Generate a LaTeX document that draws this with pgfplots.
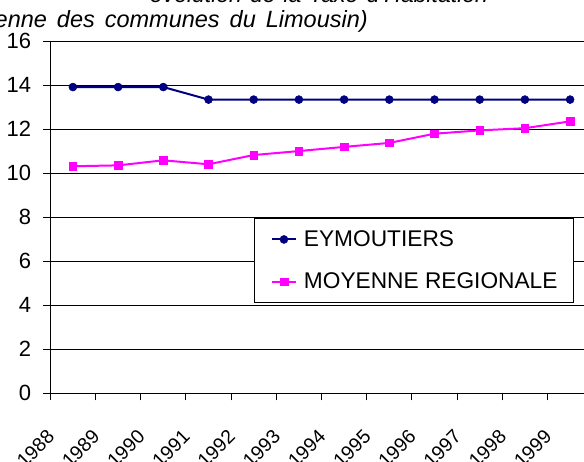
\documentclass[border=0pt]{standalone}
\usepackage{fontspec}
\setmainfont{Liberation Sans}
\usepackage{pgfplots}
\pgfplotsset{compat=1.18}
\definecolor{navyc}{HTML}{000080}
\definecolor{magc}{HTML}{FF00FF}
\begin{document}
\begin{tikzpicture}[x=1pt,y=1pt]
\useasboundingbox (0,0) rectangle (584,462);
\clip (0,0) rectangle (584,462);
\begin{axis}[
  at={(50.3pt,68.7pt)}, anchor=south west,
  scale only axis, width=542.4pt, height=352pt,
  xmin=0, xmax=12, ymin=0, ymax=16,
  axis x line*=bottom, axis y line*=left,
  axis line style={-, black, line width=1pt},
  /pgf/number format/assume math mode=true,
  tick label style={font=\fontsize{22}{26}\selectfont},
  ytick={0,2,...,16},
  xtick={0.5,1.5,...,11.5},
  xticklabels={1988,1989,1990,1991,1992,1993,1994,1995,1996,1997,1998,1999},
  minor xtick={0,1,...,12},
  tick align=outside, major tick length=7pt, minor tick length=7pt,
  tick style={black, line width=1pt},
  every major x tick/.append style={draw=none},
  ymajorgrids, xmajorgrids=false, xminorgrids=false,
  grid style={black, line width=1pt},
  yticklabel style={inner sep=0pt, xshift=-12pt},
  xticklabel style={inner sep=0pt, font=\fontsize{19.5}{23}\selectfont, xshift=-27pt, yshift=-28pt, rotate=45, anchor=north east},
  legend style={at={(rel axis cs:0.9655,0.4972)}, anchor=north east,
    draw=black, line width=1pt, fill=white,
    font=\fontsize{22.7}{27}\selectfont,
    inner xsep=16pt, inner ysep=12pt, row sep=25pt,
    nodes={inner sep=0pt},
    /tikz/every odd column/.append style={column sep=7pt}},
  legend cell align=left,
  legend image code/.code={\draw[mark repeat=2,mark phase=2] plot coordinates {(0pt,0pt) (12pt,0pt) (24pt,0pt)};},
]
\addplot[navyc, line width=2pt, mark=*, mark size=4pt, mark options={fill=navyc, draw=navyc, line width=0.5pt}]
 coordinates {(0.5,13.92)(1.5,13.92)(2.5,13.92)(3.5,13.35)(4.5,13.35)(5.5,13.35)(6.5,13.35)(7.5,13.35)(8.5,13.35)(9.5,13.35)(10.5,13.35)(11.5,13.35)};
\addlegendentry{EYMOUTIERS}
\addplot[magc, line width=2pt, mark=square*, mark size=3.8pt, mark options={fill=magc, draw=magc, line width=0.5pt}]
 coordinates {(0.5,10.32)(1.5,10.36)(2.5,10.59)(3.5,10.41)(4.5,10.83)(5.5,11.01)(6.5,11.2)(7.5,11.38)(8.5,11.8)(9.5,11.95)(10.5,12.05)(11.5,12.36)};
\addlegendentry{MOYENNE REGIONALE}
\end{axis}
\node[anchor=base, inner sep=0pt, font=\fontsize{23}{28}\selectfont\itshape] at (319,459.3) {\spaceskip=8pt évolution de la Taxe d'Habitation};
\node[anchor=base east, inner sep=0pt, font=\fontsize{23.5}{28}\selectfont\itshape] at (368,434) {\spaceskip=10pt (moyenne des communes du Limousin)};
\end{tikzpicture}
\end{document}
